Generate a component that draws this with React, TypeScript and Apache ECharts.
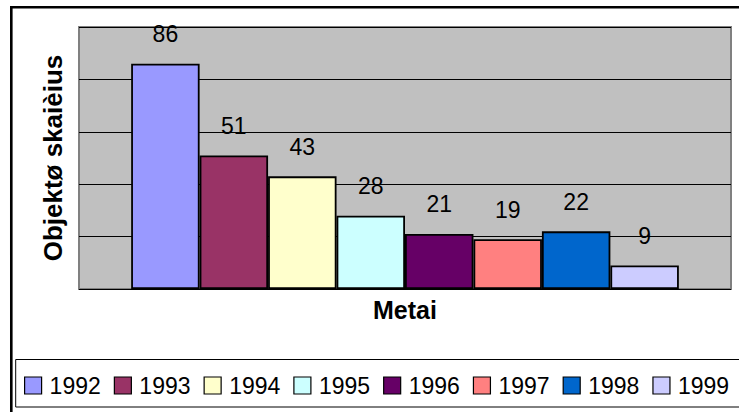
import React, { useEffect, useRef } from "react";
import * as echarts from "echarts";

const years = ["1992", "1993", "1994", "1995", "1996", "1997", "1998", "1999"];
const counts = [86, 51, 43, 28, 21, 19, 22, 9];
const yTicks = { min: 0, max: 100, interval: 20 };
const yTitle = "Objektø skaièius";
const xTitle = "Metai";

const palette = ["#9999FF", "#993366", "#FFFFCC", "#CCFFFF", "#660066", "#FF8080", "#0066CC", "#CCCCFF"];
const FONT = "'Liberation Sans', Arial, sans-serif";

export default function App() {
  const ref = useRef<HTMLDivElement>(null);
  useEffect(() => {
    if (!ref.current) return;
    const chart = echarts.init(ref.current, undefined, { renderer: "svg" });
    const series = years.map((y, i) => ({
      type: "bar" as const,
      name: y,
      data: [counts[i]],
      barGap: "0%",
      barCategoryGap: "16%",
      itemStyle: { color: palette[i], borderColor: "#000", borderWidth: 1.8 },
      label: {
        show: true,
        position: "top" as const,
        distance: 18,
        color: "#000",
        fontFamily: FONT,
        fontSize: 23,
      },
    }));
    chart.setOption({
      animation: false,
      backgroundColor: "#fff",
      textStyle: { fontFamily: FONT },
      graphic: [
        {
          type: "rect",
          shape: { x: 11.3, y: 7.3, width: 800, height: 460 },
          style: { fill: "none", stroke: "#000", lineWidth: 2.6 },
          silent: true,
          z: 100,
        },
        {
          type: "rect",
          shape: { x: 15.7, y: 359.5, width: 800, height: 47.5 },
          style: { fill: "none", stroke: "#000", lineWidth: 1 },
          silent: true,
          z: 100,
        },
      ],
      grid: {
        left: 79,
        top: 27,
        right: 8,
        bottom: 123,
        show: true,
        backgroundColor: "#C0C0C0",
        borderColor: "#808080",
        borderWidth: 2,
      },
      legend: {
        left: 19,
        top: 369,
        width: 730,
        padding: [5, 0, 5, 5],
        itemWidth: 17,
        itemHeight: 17,
        itemGap: 13,
        icon: "rect",
        itemStyle: { borderColor: "#000", borderWidth: 1.2 },
        textStyle: { fontFamily: FONT, fontSize: 23, color: "#000", padding: [0, 0, 0, 3] },
        data: years,
      },
      xAxis: {
        type: "category",
        data: [""],
        axisLine: { show: false },
        axisTick: { show: false },
        axisLabel: { show: false },
        name: xTitle,
        nameLocation: "middle",
        nameGap: 8,
        nameTextStyle: { fontFamily: FONT, fontSize: 25, fontWeight: "bold", color: "#000", verticalAlign: "top" },
      },
      yAxis: {
        type: "value",
        min: yTicks.min,
        max: yTicks.max,
        interval: yTicks.interval,
        axisLine: { show: false },
        axisTick: { show: false },
        axisLabel: { show: false },
        splitLine: { show: true, lineStyle: { color: "#000", width: 1 } },
        name: yTitle,
        nameLocation: "middle",
        nameRotate: 90,
        nameGap: 13,
        nameTextStyle: { fontFamily: FONT, fontSize: 26, fontWeight: "bold", color: "#000" },
      },
      series,
    });
    return () => chart.dispose();
  }, []);
  return (
    <div
      ref={ref}
      style={{ position: "fixed", left: 0, top: 0, width: 739, height: 412 }}
    />
  );
}
